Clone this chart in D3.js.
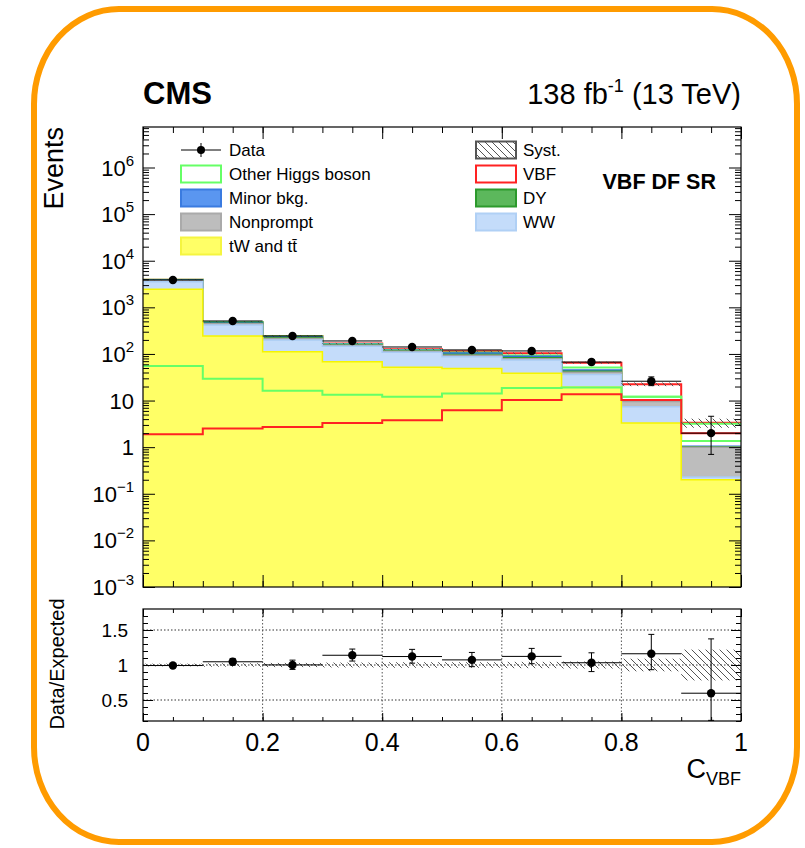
<!DOCTYPE html>
<html>
<head>
<meta charset="utf-8">
<script src="https://cdn.jsdelivr.net/npm/d3@7"></script>
<style>
body { margin: 0; background: #fff; }
svg { display: block; font-family: "Liberation Sans", Arial, sans-serif; }
</style>
</head>
<body>
<div id="chart"></div>
<script>
// bins in C_VBF
let binEdges = [0, 0.1, 0.2, 0.3, 0.4, 0.5, 0.6, 0.7, 0.8, 0.9, 1.0];

// stacked expectations (bottom to top)
let ttbar = [2445, 243, 112, 68, 52, 49, 38.5, 19.3, 3.3, 0.2];
let ww = [1115, 176, 88, 77.5, 57, 38.5, 35.5, 17, 4.1, 0.03];
let nonprompt = [150, 25, 15, 8, 5, 6, 5, 4, 2.1, 0.77];
let dy = [70, 12, 8, 4, 3, 4, 4, 2, 0.3, 0.02];
let minorBkg = [65, 15, 9, 4, 3, 7, 6, 3, 0.3, 0.03];
let higgsStack = [53, 14, 8, 2, 2, 3, 4, 6, 2, 0.3];
let vbf = [1.9, 2.5, 2.7, 3.3, 3.8, 6.2, 10.3, 13.6, 10.3, 2.0];

// unstacked overlay of other Higgs boson
let higgsLine = [55, 29.5, 16.3, 13.4, 12.1, 14.2, 18.5, 19, 12.1, 3.2];

// data
let data = [3870, 510, 243, 190, 141, 122, 116, 67, 26, 2];
let dataErrUp = [63, 23, 16.6, 14.8, 12.9, 12.1, 11.8, 9.2, 6.2, 2.6];
let dataErrDn = [62, 22.6, 15.6, 13.8, 11.9, 11.0, 10.8, 8.2, 5.1, 1.3];

// relative systematic uncertainty
let syst = [0.02, 0.025, 0.03, 0.035, 0.04, 0.04, 0.045, 0.05, 0.09, 0.22];

let xTicks = [0, 0.2, 0.4, 0.6, 0.8, 1];
let xTickLabels = ["0", "0.2", "0.4", "0.6", "0.8", "1"];
let ratioTicks = [0.5, 1, 1.5];
let ratioTickLabels = ["0.5", "1", "1.5"];

let width = 805, height = 848;

let svg = d3.select("#chart")
.append("svg")
.attr("width", width)
.attr("height", height);

let x = d3.scaleLinear().domain([0, 1]).range([143, 741]);
let y = d3.scaleLog().domain([1e-3, 7.4e6]).range([587, 127]);
let yr = d3.scaleLinear().domain([0.2, 1.8]).range([721, 609]);

let nb = data.length;
let centers = d3.range(nb).map(i => (binEdges[i] + binEdges[i + 1]) / 2);

let layers = [
  {name: "tW and tt\u0304", values: ttbar, fill: "#ffff66", stroke: "#f5f500", sw: 1.5},
  {name: "WW", values: ww, fill: "#c4dcfa", stroke: "#a9cbf4", sw: 1.5},
  {name: "Nonprompt", values: nonprompt, fill: "#bdbdbd", stroke: "#a3a3a3", sw: 1.5},
  {name: "DY", values: dy, fill: "#5cb85c", stroke: "#2c9a2c", sw: 1.5},
  {name: "Minor bkg.", values: minorBkg, fill: "#5a96f0", stroke: "#2f6fd8", sw: 1.5},
  {name: "Other Higgs boson", values: higgsStack, fill: "#ffffff", stroke: "#66ff66", sw: 2},
  {name: "VBF", values: vbf, fill: "#ffffff", stroke: "#ff2222", sw: 2}
];

let running = d3.range(nb).map(() => 0);
layers.forEach(l => {
  l.cum = l.values.map((v, i) => running[i] + v);
  running = l.cum.slice();
});
let total = running;
let ratio = data.map((d, i) => d / total[i]);

let defs = svg.append("defs");
defs.append("pattern")
.attr("id", "hatch")
.attr("patternUnits", "userSpaceOnUse")
.attr("width", 7)
.attr("height", 7)
.append("path")
.attr("d", "M0,0L7,7M-1,6L1,8M6,-1L8,1")
.attr("stroke", "#555")
.attr("stroke-width", 1);

defs.append("clipPath").attr("id", "clipMain")
.append("rect").attr("x", 143).attr("y", 127).attr("width", 598).attr("height", 460);
defs.append("clipPath").attr("id", "clipRatio")
.append("rect").attr("x", 143).attr("y", 609).attr("width", 598).attr("height", 112);

// orange rounded frame
svg.append("rect")
.attr("x", 34).attr("y", 9)
.attr("width", 763).attr("height", 833)
.attr("rx", 85).attr("ry", 95)
.attr("fill", "none")
.attr("stroke", "#ff9b00")
.attr("stroke-width", 6);

// ---- main panel ----
let main = svg.append("g").attr("clip-path", "url(#clipMain)");

function stepPoints(vals) {
  let pts = vals.map((v, i) => [binEdges[i], v]);
  pts.push([binEdges[nb], vals[nb - 1]]);
  return pts;
}

let area = d3.area()
.curve(d3.curveStepAfter)
.x(d => x(d[0]))
.y0(587)
.y1(d => y(d[1]));

let stepLine = d3.line()
.curve(d3.curveStepAfter)
.x(d => x(d[0]))
.y(d => y(d[1]));

layers.slice().reverse().forEach(l => {
  main.append("path")
  .attr("d", area(stepPoints(l.cum)))
  .attr("fill", l.fill);
  main.append("path")
  .attr("d", stepLine(stepPoints(l.cum)))
  .attr("fill", "none")
  .attr("stroke", l.stroke)
  .attr("stroke-width", l.sw);
});

// unstacked overlays
main.append("path")
.attr("d", stepLine(stepPoints(higgsLine)))
.attr("fill", "none")
.attr("stroke", "#66ff66")
.attr("stroke-width", 2);

main.append("path")
.attr("d", stepLine(stepPoints(vbf)))
.attr("fill", "none")
.attr("stroke", "#ff2222")
.attr("stroke-width", 2);

// systematic band
main.selectAll(".syst")
.data(d3.range(nb))
.enter().append("rect")
.attr("class", "syst")
.attr("x", i => x(binEdges[i]))
.attr("width", i => x(binEdges[i + 1]) - x(binEdges[i]))
.attr("y", i => y(total[i] * (1 + syst[i])))
.attr("height", i => y(total[i] * (1 - syst[i])) - y(total[i] * (1 + syst[i])))
.attr("fill", "url(#hatch)");

// data points
let pts = main.append("g");
pts.selectAll(".ex")
.data(d3.range(nb))
.enter().append("line")
.attr("x1", i => x(binEdges[i])).attr("x2", i => x(binEdges[i + 1]))
.attr("y1", i => y(data[i])).attr("y2", i => y(data[i]))
.attr("stroke", "#000").attr("stroke-width", 1);
pts.selectAll(".ey")
.data(d3.range(nb))
.enter().append("path")
.attr("d", i => {
  let cx = x(centers[i]);
  let t = y(data[i] + dataErrUp[i]);
  let b = y(data[i] - dataErrDn[i]);
  return "M" + cx + "," + t + "V" + b +
    "M" + (cx - 3) + "," + t + "H" + (cx + 3) + "M" + (cx - 3) + "," + b + "H" + (cx + 3);
})
.attr("fill", "none")
.attr("stroke", "#000").attr("stroke-width", 1);
pts.selectAll("circle")
.data(d3.range(nb))
.enter().append("circle")
.attr("cx", i => x(centers[i]))
.attr("cy", i => y(data[i]))
.attr("r", 4.2)
.attr("fill", "#000");

// axes main
let majors = d3.range(-3, 7).map(e => Math.pow(10, e));
let minors = [];
d3.range(-3, 7).forEach(e => {
  d3.range(2, 10).forEach(m => {
    let v = m * Math.pow(10, e);
    if (v < 7.4e6) minors.push(v);
  });
});
let xMinor = d3.range(0, 21).map(i => i * 0.05);

function axisGroup(ax, tx, ty) {
  let g = svg.append("g").attr("transform", "translate(" + tx + "," + ty + ")").call(ax);
  g.select(".domain").remove();
  g.selectAll("text").remove();
  g.selectAll("line").attr("stroke", "#000");
  return g;
}

axisGroup(d3.axisLeft(y).tickValues(majors).tickSize(-12).tickFormat(""), 143, 0);
axisGroup(d3.axisLeft(y).tickValues(minors).tickSize(-6).tickFormat(""), 143, 0);
axisGroup(d3.axisRight(y).tickValues(majors).tickSize(-12).tickFormat(""), 741, 0);
axisGroup(d3.axisRight(y).tickValues(minors).tickSize(-6).tickFormat(""), 741, 0);
axisGroup(d3.axisBottom(x).tickValues(xTicks).tickSize(-12).tickFormat(""), 0, 587);
axisGroup(d3.axisBottom(x).tickValues(xMinor).tickSize(-6).tickFormat(""), 0, 587);
axisGroup(d3.axisTop(x).tickValues(xTicks).tickSize(-12).tickFormat(""), 0, 127);
axisGroup(d3.axisTop(x).tickValues(xMinor).tickSize(-6).tickFormat(""), 0, 127);

svg.append("rect")
.attr("x", 143).attr("y", 127).attr("width", 598).attr("height", 460)
.attr("fill", "none").attr("stroke", "#000").attr("stroke-width", 1.2);

majors.forEach(v => {
  let e = Math.round(Math.log10(v));
  let t = svg.append("text")
  .attr("x", 134)
  .attr("y", y(v) + 8)
  .attr("text-anchor", "end")
  .style("font-size", "22px");
  if (e === 0) t.text("1");
  else if (e === 1) t.text("10");
  else {
    t.append("tspan").text("10");
    t.append("tspan").attr("dy", -10).style("font-size", "15px")
    .text(e < 0 ? "\u2212" + (-e) : String(e));
  }
});

svg.append("text")
.attr("transform", "translate(63,127) rotate(-90)")
.attr("text-anchor", "end")
.style("font-size", "27px")
.text("Events");

// ---- ratio panel ----
let rp = svg.append("g").attr("clip-path", "url(#clipRatio)");

rp.selectAll(".hgrid")
.data(ratioTicks)
.enter().append("line")
.attr("x1", 143).attr("x2", 741)
.attr("y1", d => yr(d)).attr("y2", d => yr(d))
.attr("stroke", "#333").attr("stroke-width", 1)
.attr("stroke-dasharray", "1.5,2");

rp.selectAll(".vgrid")
.data([0.2, 0.4, 0.6, 0.8])
.enter().append("line")
.attr("x1", d => x(d)).attr("x2", d => x(d))
.attr("y1", 609).attr("y2", 721)
.attr("stroke", "#555").attr("stroke-width", 1)
.attr("stroke-dasharray", "1.5,2");

rp.selectAll(".rsyst")
.data(d3.range(nb))
.enter().append("rect")
.attr("x", i => x(binEdges[i]))
.attr("width", i => x(binEdges[i + 1]) - x(binEdges[i]))
.attr("y", i => yr(1 + syst[i]))
.attr("height", i => yr(1 - syst[i]) - yr(1 + syst[i]))
.attr("fill", "url(#hatch)");

rp.selectAll(".rex")
.data(d3.range(nb))
.enter().append("line")
.attr("x1", i => x(binEdges[i])).attr("x2", i => x(binEdges[i + 1]))
.attr("y1", i => yr(ratio[i])).attr("y2", i => yr(ratio[i]))
.attr("stroke", "#000").attr("stroke-width", 1);
rp.selectAll(".rey")
.data(d3.range(nb))
.enter().append("path")
.attr("d", i => {
  let cx = x(centers[i]);
  let t = yr((data[i] + dataErrUp[i]) / total[i]);
  let b = yr((data[i] - dataErrDn[i]) / total[i]);
  return "M" + cx + "," + t + "V" + b +
    "M" + (cx - 3) + "," + t + "H" + (cx + 3) + "M" + (cx - 3) + "," + b + "H" + (cx + 3);
})
.attr("fill", "none")
.attr("stroke", "#000").attr("stroke-width", 1);
rp.selectAll("circle")
.data(d3.range(nb))
.enter().append("circle")
.attr("cx", i => x(centers[i]))
.attr("cy", i => yr(ratio[i]))
.attr("r", 4.2)
.attr("fill", "#000");

let rMinor = d3.range(2, 18).map(i => i / 10);
axisGroup(d3.axisLeft(yr).tickValues(ratioTicks).tickSize(-10).tickFormat(""), 143, 0);
axisGroup(d3.axisLeft(yr).tickValues(rMinor).tickSize(-5).tickFormat(""), 143, 0);
axisGroup(d3.axisRight(yr).tickValues(ratioTicks).tickSize(-10).tickFormat(""), 741, 0);
axisGroup(d3.axisRight(yr).tickValues(rMinor).tickSize(-5).tickFormat(""), 741, 0);
axisGroup(d3.axisBottom(x).tickValues(xTicks).tickSize(-8).tickFormat(""), 0, 721);
axisGroup(d3.axisBottom(x).tickValues(xMinor).tickSize(-4).tickFormat(""), 0, 721);
axisGroup(d3.axisTop(x).tickValues(xTicks).tickSize(-8).tickFormat(""), 0, 609);
axisGroup(d3.axisTop(x).tickValues(xMinor).tickSize(-4).tickFormat(""), 0, 609);

svg.append("rect")
.attr("x", 143).attr("y", 609).attr("width", 598).attr("height", 112)
.attr("fill", "none").attr("stroke", "#000").attr("stroke-width", 1.2);

svg.selectAll(".rlab")
.data(ratioTicks)
.enter().append("text")
.attr("x", 128)
.attr("y", d => yr(d) + 7)
.attr("text-anchor", "end")
.style("font-size", "19px")
.text((d, i) => ratioTickLabels[i]);

svg.selectAll(".xlab")
.data(xTicks)
.enter().append("text")
.attr("x", d => x(d))
.attr("y", 751)
.attr("text-anchor", "middle")
.style("font-size", "25px")
.text((d, i) => xTickLabels[i]);

svg.append("text")
.attr("transform", "translate(64,664) rotate(-90)")
.attr("text-anchor", "middle")
.style("font-size", "20px")
.text("Data/Expected");

let xt = svg.append("text")
.attr("x", 741).attr("y", 778)
.attr("text-anchor", "end")
.style("font-size", "27px");
xt.append("tspan").text("C");
xt.append("tspan").attr("dy", 7).style("font-size", "18px").text("VBF");

// ---- header ----
svg.append("text")
.attr("x", 143).attr("y", 104)
.style("font-size", "31px")
.style("font-weight", "bold")
.text("CMS");

let lumi = svg.append("text")
.attr("x", 741).attr("y", 104)
.attr("text-anchor", "end")
.style("font-size", "29px");
lumi.append("tspan").text("138 fb");
lumi.append("tspan").attr("dy", -12).style("font-size", "18px").text("-1");
lumi.append("tspan").attr("dy", 12).text(" (13 TeV)");

svg.append("text")
.attr("x", 716).attr("y", 189)
.attr("text-anchor", "end")
.style("font-size", "21.5px")
.style("font-weight", "bold")
.text("VBF DF SR");

// ---- legend ----
let legendItems = [
  {label: "Data", col: 0, row: 0, type: "data"},
  {label: "Other Higgs boson", col: 0, row: 1, fill: "#ffffff", stroke: "#66ff66"},
  {label: "Minor bkg.", col: 0, row: 2, fill: "#5a96f0", stroke: "#3a7be0"},
  {label: "Nonprompt", col: 0, row: 3, fill: "#bdbdbd", stroke: "#aaaaaa"},
  {label: "tW and tt\u0304", col: 0, row: 4, fill: "#ffff66", stroke: "#f5f540"},
  {label: "Syst.", col: 1, row: 0, fill: "url(#hatch)", stroke: "#555"},
  {label: "VBF", col: 1, row: 1, fill: "#ffffff", stroke: "#ff2222"},
  {label: "DY", col: 1, row: 2, fill: "#5cb85c", stroke: "#2c9a2c"},
  {label: "WW", col: 1, row: 3, fill: "#c4dcfa", stroke: "#b0d0f5"}
];
let legX = [181, 476], legTextX = [229, 523];

let leg = svg.append("g");
legendItems.forEach(d => {
  let cy = 150 + d.row * 24;
  let bx = legX[d.col];
  if (d.type === "data") {
    leg.append("line").attr("x1", bx).attr("x2", bx + 40).attr("y1", cy).attr("y2", cy)
    .attr("stroke", "#000").attr("stroke-width", 1);
    leg.append("line").attr("x1", bx + 20).attr("x2", bx + 20).attr("y1", cy - 7).attr("y2", cy + 7)
    .attr("stroke", "#000").attr("stroke-width", 1);
    leg.append("circle").attr("cx", bx + 20).attr("cy", cy).attr("r", 4).attr("fill", "#000");
  } else {
    leg.append("rect").attr("x", bx).attr("y", cy - 8.5).attr("width", 40).attr("height", 17)
    .attr("fill", d.fill).attr("stroke", d.stroke).attr("stroke-width", 2);
  }
  leg.append("text")
  .attr("x", legTextX[d.col])
  .attr("y", cy + 6)
  .style("font-size", "17px")
  .text(d.label);
});
</script>
</body>
</html>
